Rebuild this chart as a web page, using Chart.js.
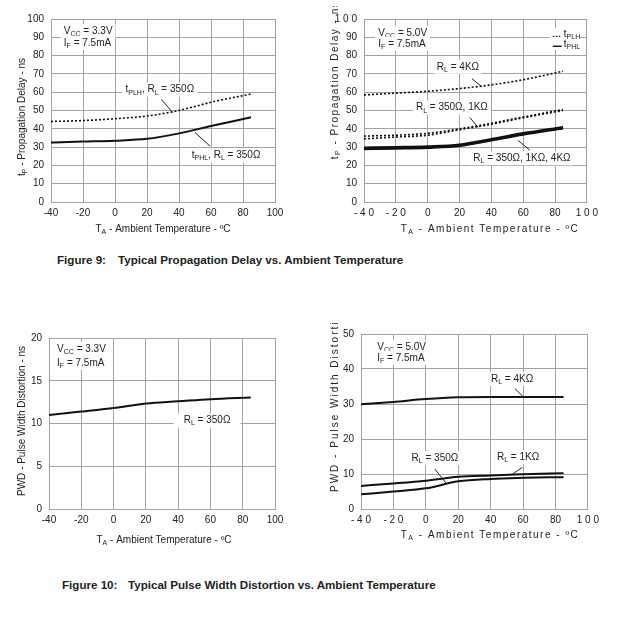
<!DOCTYPE html>
<html>
<head>
<meta charset="utf-8">
<script src="https://cdn.jsdelivr.net/npm/chart.js@4"></script>
<style>
  body { margin: 0; background: #fff; width: 634px; height: 621px; position: relative; overflow: hidden; }
  canvas { position: absolute; }
  .cap { position: absolute; font: bold 11.6px "Liberation Sans", Arial, sans-serif; line-height: 13px; white-space: pre; color: #222; }
</style>
</head>
<body>
<div class="cap" style="left:57px;top:253px">Figure 9:</div>
<div class="cap" style="left:118px;top:253px">Typical Propagation Delay vs. Ambient Temperature</div>
<div class="cap" style="left:62px;top:578px">Figure 10:</div>
<div class="cap" style="left:128px;top:578px">Typical Pulse Width Distortion vs. Ambient Temperature</div>
<script>
const FONT = '"Liberation Sans", Arial, sans-serif';

// temperature points (x axis, °C)
const temps = [-40, -20, 0, 20, 40, 60, 85];

// Figure 9 left: VCC = 3.3V
const pd33Tplh = [44, 44.5, 45.5, 47, 50, 54.5, 59];
const pd33Tphl = [32.5, 33, 33.5, 34.5, 37.5, 41.5, 46.3];

// Figure 9 right: VCC = 5.0V
const pd50Tplh4k = [58.5, 59.5, 60.5, 62, 64, 66.8, 71.5];
const pd50Tplh1k = [36, 36.5, 37.5, 40, 43, 46.5, 50.5];
const pd50Tplh350 = [34.5, 35.5, 36.5, 39.5, 42.5, 46, 50];
const pd50Tphl350 = [28.9, 29.2, 29.6, 30.6, 33.6, 36.8, 40.2];
const pd50Tphl1k = [29.3, 29.6, 30, 31, 34, 37.2, 40.6];
const pd50Tphl4k = [29.7, 30, 30.4, 31.4, 34.4, 37.6, 41];

// Figure 10 left: VCC = 3.3V
const pwd33 = [11, 11.4, 11.8, 12.35, 12.6, 12.85, 13.05];

// Figure 10 right: VCC = 5.0V
const pwd50_4k = [29.9, 30.6, 31.4, 31.9, 32, 32, 32];
const pwd50_1k = [6.6, 7.3, 8.1, 9.2, 9.6, 9.9, 10.25];
const pwd50_350 = [4.2, 5, 5.9, 7.9, 8.6, 8.9, 9.1];

// text labels in data units: [x, y, text, align, pad]
const notes1 = [[-32, 93.5, 'V_{CC} = 3.3V', 'left'], [-32, 87, 'I_{F} = 7.5mA', 'left'],
  [28, 61.4, 't_{PLH}, R_{L} = 350Ω', 'center'], [69.4, 25.5, 't_{PHL}, R_{L} = 350Ω', 'center']];
const leaders1 = [[29, 56, 36, 49], [50, 38, 59.4, 30.5]];

const notes2 = [[-31, 92.4, 'V_{CC} = 5.0V', 'left'], [-31, 86.4, 'I_{F} = 7.5mA', 'left'],
  [19, 73.9, 'R_{L} = 4KΩ', 'center'], [15.2, 51.6, 'R_{L} = 350Ω, 1KΩ', 'center'],
  [59.2, 23.9, 'R_{L} = 350Ω, 1KΩ, 4KΩ', 'center']];
const leaders2 = [[27.8, 67.4, 34, 63], [26.5, 46.2, 31.6, 40.8], [56.7, 33.7, 64.2, 28.3]];
const legend2 = [[78.6, 91.6, 't_{PLH}', true], [78.6, 86.2, 't_{PHL}', false]];

const notes3 = [[-35, 18.7, 'V_{CC} = 3.3V', 'left'], [-35, 17.1, 'I_{F} = 7.5mA', 'left'],
  [57.9, 10.35, 'R_{L} = 350Ω', 'center', 10]];

const notes4 = [[-30, 46.3, 'V_{CC} = 5.0V', 'left'], [-30, 43.2, 'I_{F} = 7.5mA', 'left'],
  [53.2, 37.2, 'R_{L} = 4KΩ', 'center'], [5.6, 14.5, 'R_{L} = 350Ω', 'center'],
  [56.9, 14.8, 'R_{L} = 1KΩ', 'center']];
const leaders4 = [[55, 34.4, 60, 32.1], [5.6, 11.4, 13, 7.1], [59.5, 11.9, 53.3, 9.9]];

function parts(s) {
  const out = [];
  const re = /_\{([^}]*)\}/g;
  let last = 0, m;
  while ((m = re.exec(s))) {
    if (m.index > last) out.push([s.slice(last, m.index), false]);
    out.push([m[1], true]);
    last = re.lastIndex;
  }
  if (last < s.length) out.push([s.slice(last), false]);
  return out;
}

function richWidth(ctx, s, size, sp) {
  ctx.letterSpacing = sp + 'px';
  let w = 0;
  parts(s).forEach(([t, sub]) => {
    ctx.font = (sub ? size * 0.7 : size) + 'px ' + FONT;
    w += ctx.measureText(t).width;
  });
  return w;
}

function drawRich(ctx, s, x, y, size, sp) {
  ctx.letterSpacing = sp + 'px';
  ctx.fillStyle = '#222';
  ctx.textAlign = 'left';
  ctx.textBaseline = 'middle';
  parts(s).forEach(([t, sub]) => {
    ctx.font = (sub ? size * 0.7 : size) + 'px ' + FONT;
    ctx.fillText(t, x, sub ? y + size * 0.3 : y);
    x += ctx.measureText(t).width;
  });
}

const notesPlugin = {
  id: 'notes',
  beforeDatasetsDraw(chart, args, o) {
    const ctx = chart.ctx, xs = chart.scales.x, ys = chart.scales.y;
    ctx.save();
    (o.items || []).forEach(([x, y, text, align, pad]) => {
      const px = xs.getPixelForValue(x), py = ys.getPixelForValue(y);
      const w = richWidth(ctx, text, 10, 0);
      const x0 = align === 'center' ? px - w / 2 : px;
      const p = pad == null ? 3 : pad;
      ctx.fillStyle = '#fff';
      ctx.fillRect(x0 - p, py - 7, w + 2 * p, 14);
      drawRich(ctx, text, x0, py, 10, 0);
    });
    const leg = o.legend || [];
    leg.forEach(([x, y]) => {
      const px = xs.getPixelForValue(x), py = ys.getPixelForValue(y);
      ctx.fillStyle = '#fff';
      ctx.fillRect(px - 3, py - 6, 30, 12);
    });
    leg.forEach(([x, y, text, dotted]) => {
      const px = xs.getPixelForValue(x), py = ys.getPixelForValue(y);
      ctx.strokeStyle = '#222';
      ctx.lineWidth = dotted ? 1.2 : 1.5;
      ctx.setLineDash(dotted ? [1.5, 1.5] : []);
      ctx.beginPath();
      ctx.moveTo(px, py + 2);
      ctx.lineTo(px + 9, py + 2);
      ctx.stroke();
      ctx.setLineDash([]);
      drawRich(ctx, text, px + 11, py, 10, 0);
    });
    ctx.restore();
  },
  afterDatasetsDraw(chart, args, o) {
    const ctx = chart.ctx, xs = chart.scales.x, ys = chart.scales.y;
    ctx.save();
    ctx.strokeStyle = '#222';
    ctx.lineWidth = 1;
    (o.leaders || []).forEach(([x1, y1, x2, y2]) => {
      ctx.beginPath();
      ctx.moveTo(xs.getPixelForValue(x1), ys.getPixelForValue(y1));
      ctx.lineTo(xs.getPixelForValue(x2), ys.getPixelForValue(y2));
      ctx.stroke();
    });
    ctx.restore();
  },
  afterDraw(chart, args, o) {
    const ctx = chart.ctx;
    (o.titles || []).forEach(([x, y, text, rotated, align, sp]) => {
      ctx.save();
      ctx.translate(x - o.ox, y - o.oy);
      if (rotated) ctx.rotate(-Math.PI / 2);
      const w = richWidth(ctx, text, 10, sp);
      drawRich(ctx, text, align === 'center' ? -w / 2 : 0, 0, 10, sp);
      ctx.restore();
    });
  }
};

function line(ys, dotted, width) {
  return {
    data: temps.map((t, i) => ({ x: t, y: ys[i] })),
    borderColor: '#111',
    borderWidth: width,
    borderDash: dotted ? [2, 2] : [],
    pointRadius: 0,
    cubicInterpolationMode: 'monotone',
    fill: false
  };
}

function panel(area, yMax, yStep, datasets, notes, spaced) {
  const [L, T, R, B] = area;
  const ML = 50, MT = 12, MR = 16, MB = 40;
  const W = R - L + ML + MR, H = B - T + MT + MB;
  const cv = document.createElement('canvas');
  cv.width = W; cv.height = H;
  cv.style.left = (L - ML) + 'px';
  cv.style.top = (T - MT) + 'px';
  cv.style.width = W + 'px';
  cv.style.height = H + 'px';
  document.body.appendChild(cv);
  notes.ox = L - ML;
  notes.oy = T - MT;
  const fmt = v => spaced && (v < 0 || v >= 100) ? String(v).split('').join(' ') : String(v);
  const grid = { color: '#a3a3a3', lineWidth: 1, drawTicks: false };
  const border = { color: '#a3a3a3', width: 1 };
  const tickFont = { family: FONT, size: 10 };
  return new Chart(cv, {
    type: 'line',
    data: { datasets },
    plugins: [notesPlugin],
    options: {
      responsive: false,
      animation: false,
      layout: { padding: { left: 0, top: MT, right: MR, bottom: 0 } },
      plugins: { legend: { display: false }, tooltip: { enabled: false }, notes },
      scales: {
        x: {
          type: 'linear', min: -40, max: 100,
          ticks: { stepSize: 20, padding: 5, color: '#222', font: tickFont, callback: fmt, maxRotation: 0 },
          grid, border,
          afterFit: s => { s.height = MB; }
        },
        y: {
          min: 0, max: yMax,
          ticks: { stepSize: yStep, padding: 7, color: '#222', font: tickFont, callback: fmt },
          grid, border,
          afterFit: s => { s.width = ML; }
        }
      }
    }
  });
}

panel([51, 18, 275, 202], 100, 10,
  [line(pd33Tplh, true, 1.6), line(pd33Tphl, false, 2)],
  { items: notes1, leaders: leaders1, titles: [
    [22, 117, 't_{P} - Propagation Delay - ns', true, 'center', 0],
    [163, 229, 'T_{A} - Ambient Temperature - ºC', false, 'center', 0]] }, false);

panel([364, 18, 587, 202], 100, 10,
  [line(pd50Tplh4k, true, 1.6), line(pd50Tplh1k, true, 1.6), line(pd50Tplh350, true, 1.6),
   line(pd50Tphl350, false, 2.2), line(pd50Tphl1k, false, 2.2), line(pd50Tphl4k, false, 2.2)],
  { items: notes2, leaders: leaders2, legend: legend2, titles: [
    [335, 80, 't_{P} - Propagation Delay - ns', true, 'center', 1.5],
    [490, 229, 'T_{A} - Ambient Temperature - ºC', false, 'center', 1.5]] }, true);

panel([49, 337, 275, 509], 20, 5,
  [line(pwd33, false, 2)],
  { items: notes3, titles: [
    [22, 421, 'PWD - Pulse Width Distortion - ns', true, 'center', 0],
    [164, 540, 'T_{A} - Ambient Temperature - ºC', false, 'center', 0]] }, false);

panel([361, 333, 588, 509], 50, 10,
  [line(pwd50_4k, false, 2), line(pwd50_1k, false, 2), line(pwd50_350, false, 2)],
  { items: notes4, leaders: leaders4, titles: [
    [335, 492, 'PWD - Pulse Width Distortion - ns', true, 'left', 2],
    [490, 535, 'T_{A} - Ambient Temperature - ºC', false, 'center', 1.5]] }, true);
</script>
</body>
</html>
